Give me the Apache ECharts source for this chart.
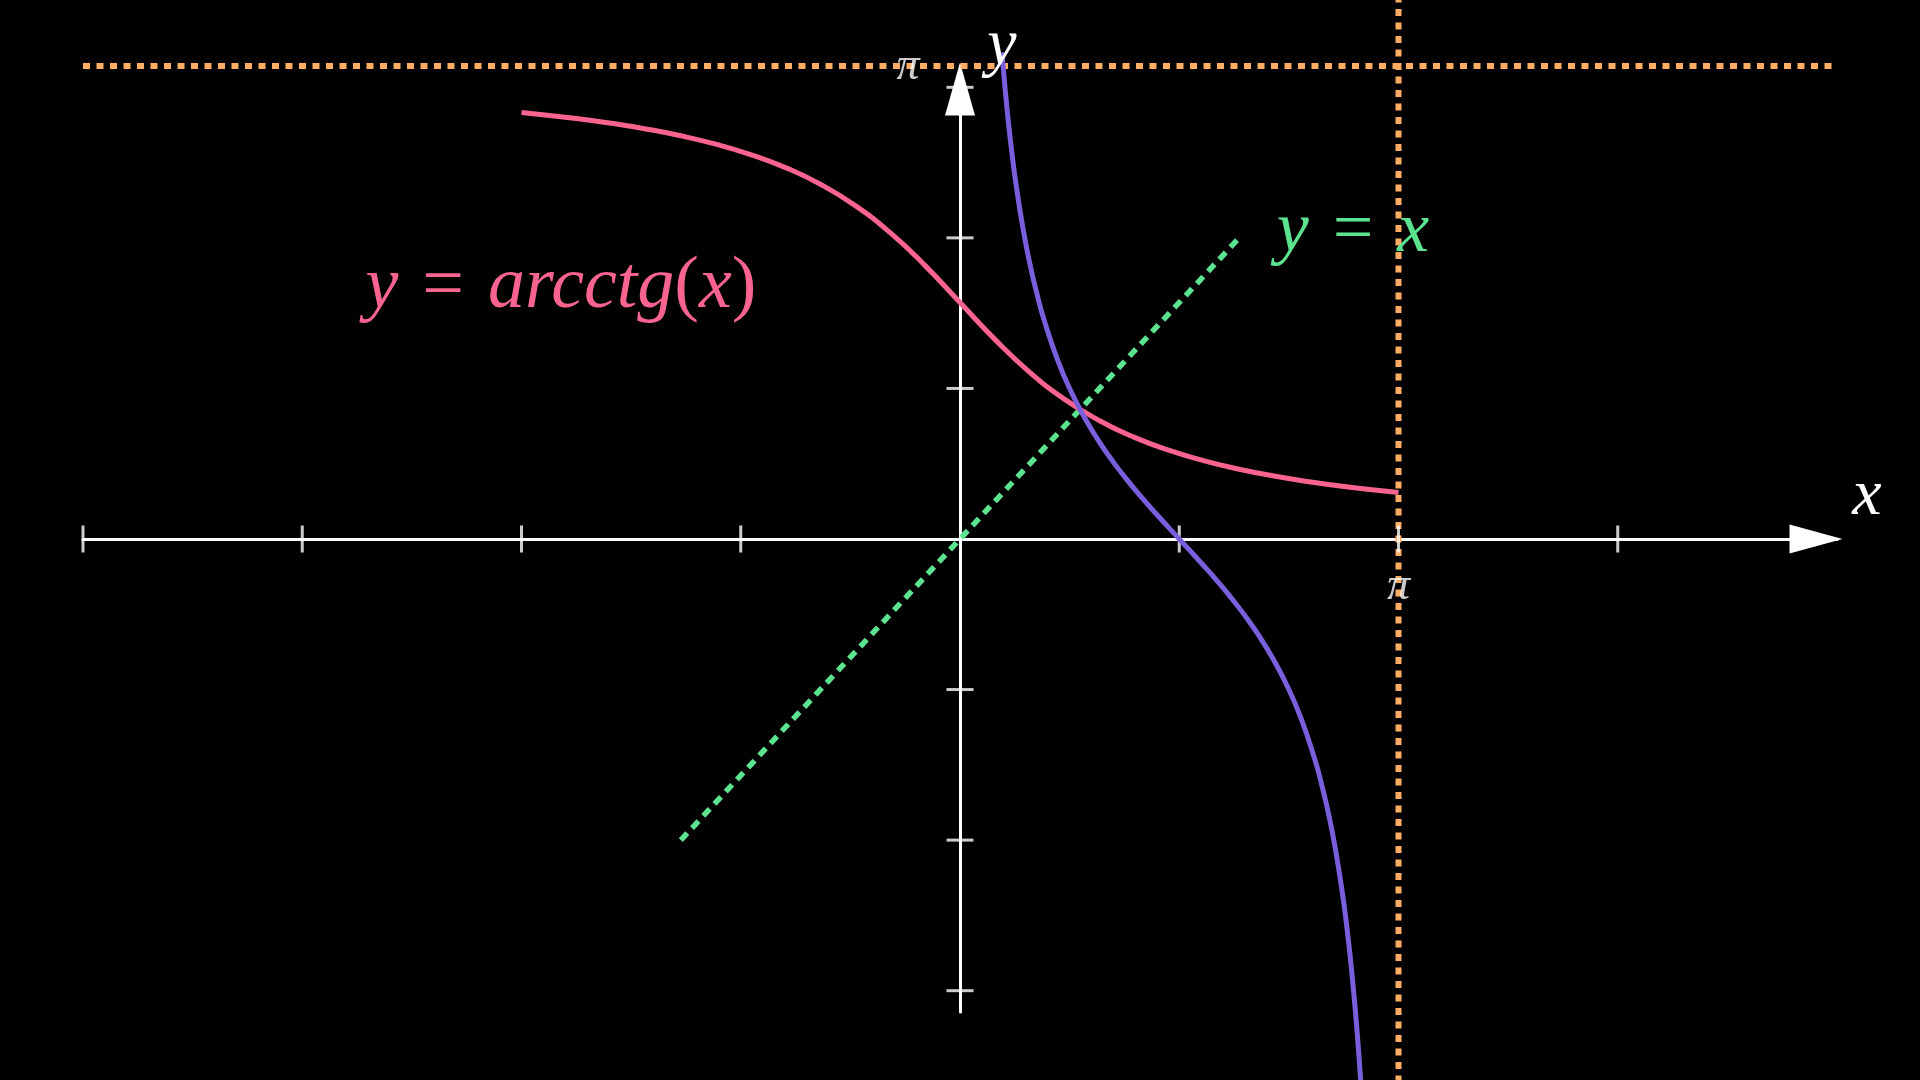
<!DOCTYPE html>
<html><head><meta charset="utf-8">
<script src="https://cdn.jsdelivr.net/npm/echarts@6/dist/echarts.min.js"></script>
<style>html,body{margin:0;padding:0;background:#000;}#c{width:1920px;height:1080px;}</style>
</head><body><div id="c"></div>
<script>
const PI = Math.PI;
// arcctg(x)
const arcctgX = [-3.1416, -2.75, -2.5, -2.25, -2, -1.75, -1.5, -1.25, -1, -0.75, -0.5, -0.25, 0, 0.25, 0.5, 0.75, 1, 1.25, 1.5, 1.75, 2, 2.25, 2.5, 2.75, 3.1416];
const arcctgY = [2.8334, 2.7928, 2.7611, 2.7234, 2.6779, 2.6225, 2.5536, 2.4669, 2.3562, 2.2143, 2.0344, 1.8158, 1.5708, 1.3258, 1.1071, 0.9273, 0.7854, 0.6747, 0.5880, 0.5191, 0.4636, 0.4182, 0.3805, 0.3488, 0.3082];
// ctg(x) on (0, pi), the purple curve
const cotX = [0.30, 0.325, 0.35, 0.375, 0.40, 0.45, 0.50, 0.55, 0.60, 0.70, 0.80, 0.90, 1.00, 1.10, 1.20, 1.30, 1.40, 1.50, 1.5708, 1.6416, 1.7416, 1.8416, 1.9416, 2.0416, 2.1416, 2.2416, 2.3416, 2.4416, 2.5416, 2.5916, 2.6416, 2.6916, 2.7416, 2.7666, 2.7916, 2.8166, 2.8416, 2.87, 2.8916];
const cotY = [3.233, 2.970, 2.740, 2.540, 2.365, 2.070, 1.830, 1.633, 1.462, 1.187, 0.971, 0.794, 0.642, 0.509, 0.389, 0.2776, 0.1725, 0.0709, 0, -0.0709, -0.1725, -0.2776, -0.389, -0.509, -0.642, -0.794, -0.971, -1.187, -1.462, -1.633, -1.830, -2.070, -2.365, -2.540, -2.740, -2.970, -3.233, -3.59, -3.916];
const identX = [-2, 2];
const identY = [-2, 2];
const asymHX = [-2 * PI, 2 * PI];
const asymHY = [PI, PI];
const asymVX = [PI, PI];
const asymVY = [-3.7, 3.7];
const xTicks = [-2 * PI, -1.5 * PI, -PI, -0.5 * PI, 0.5 * PI, PI, 1.5 * PI];
const yTicks = [-3, -2, -1, 1, 2, 3];
const piLabels = ['π', 'π'];

const zip = (a, b) => a.map((v, i) => [v, b[i]]);
const C = { pink: '#f8648f', purple: '#7a5fdc', green: '#5ce38f', orange: '#ffad62', white: '#ffffff' };
const FONT = '"Liberation Serif", "DejaVu Serif", serif';
const rich = (color, size, gap) => ({
  i: { fontFamily: FONT, fontStyle: 'italic', fontSize: size, fill: color },
  n: { fontFamily: FONT, fontStyle: 'normal', fontSize: size, fill: color },
  s: { fontFamily: FONT, fontSize: size, fill: color, width: gap }
});
const mathText = (txt, x, y, color, size, gap) => ({
  type: 'text', z: 10, x: x, y: y, silent: true,
  style: { text: txt, fill: color, align: 'center', verticalAlign: 'middle', fontFamily: FONT, fontSize: size, rich: rich(color, size, gap || 0) }
});

const chart = echarts.init(document.getElementById('c'), null, { renderer: 'canvas' });
const option = {
  backgroundColor: '#000000',
  animation: false,
  grid: { left: 83, right: 83, top: 66, height: 946, containLabel: false },
  xAxis: {
    type: 'value', min: -2 * PI, max: 2 * PI,
    axisLine: { onZero: true, lineStyle: { color: C.white, width: 3 }, symbol: ['none', 'triangle'], symbolSize: [29, 53], symbolOffset: [0, -21] },
    axisTick: { show: false }, axisLabel: { show: false }, splitLine: { show: false }
  },
  yAxis: {
    type: 'value', min: -PI, max: PI,
    axisLine: { onZero: true, lineStyle: { color: C.white, width: 3 }, symbol: ['none', 'triangle'], symbolSize: [30, 53], symbolOffset: [0, -23] },
    axisTick: { show: false }, axisLabel: { show: false }, splitLine: { show: false }
  },
  series: [
    { type: 'line', data: zip(asymHX, asymHY), symbol: 'none', silent: true, clip: false, z: 1,
      lineStyle: { color: C.orange, width: 6, type: [7, 6.5], cap: 'butt' } },
    { type: 'line', data: zip(asymVX, asymVY), symbol: 'none', silent: true, clip: false, z: 1,
      lineStyle: { color: C.orange, width: 6, type: [7, 6.5], cap: 'butt' } },
    { type: 'line', data: zip(identX, identY), symbol: 'none', silent: true, clip: false, z: 3,
      lineStyle: { color: C.green, width: 5.5, type: [9.5, 7], cap: 'butt' } },
    { type: 'scatter', data: xTicks.map(v => [v, 0]), symbol: 'rect', symbolSize: [3, 27], silent: true, z: 2,
      itemStyle: { color: C.white } },
    { type: 'scatter', data: yTicks.map(v => [0, v]), symbol: 'rect', symbolSize: [27, 3], silent: true, z: 2,
      itemStyle: { color: C.white } },
    { type: 'line', data: zip(arcctgX, arcctgY), symbol: 'none', silent: true, clip: false, z: 4,
      smooth: 0.5, lineStyle: { color: C.pink, width: 5 } },
    { type: 'line', data: zip(cotX, cotY), symbol: 'none', silent: true, clip: false, z: 5,
      smooth: 0.5, lineStyle: { color: C.purple, width: 5 } },
    { type: 'scatter', symbolSize: 0, silent: true, z: 6,
      data: [
        { value: [PI, 0], label: { show: true, formatter: piLabels[0], offset: [0, 48] } },
        { value: [0, PI], label: { show: true, formatter: piLabels[1], offset: [-52, 1] } }
      ],
      label: { position: 'inside', color: C.white, fontFamily: FONT, fontStyle: 'italic', fontSize: 46 } }
  ],
  graphic: [
    mathText('{i|x}', 1867, 497, C.white, 66),
    mathText('{i|y}', 1002, 47, C.white, 66),
    mathText('{i|y}{s| }{n|=}{s| }{i|x}', 1353, 232, C.green, 72, 24),
    mathText('{i|y}{s| }{n|=}{s| }{i|arcctg}{n|(}{i|x}{n|)}', 561, 288, C.pink, 74, 24)
  ]
};
chart.setOption(option);
</script>
</body></html>
